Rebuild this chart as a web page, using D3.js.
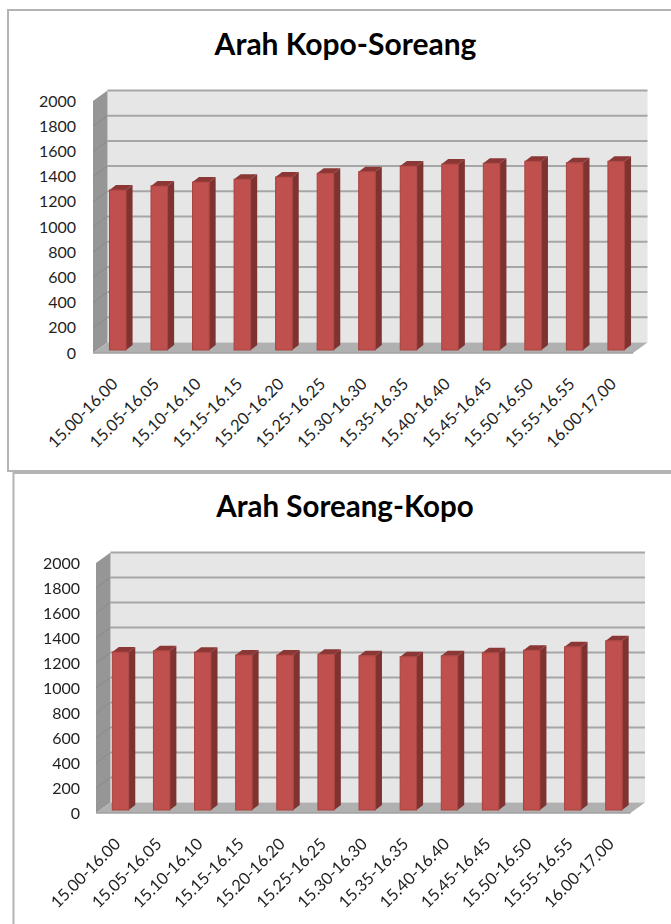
<!DOCTYPE html>
<html>
<head>
<meta charset="utf-8">
<script src="https://cdn.jsdelivr.net/npm/d3@7"></script>
<style>
  html, body { margin: 0; padding: 0; background: #fff; }
  svg { display: block; filter: blur(0.35px); }
  text { font-family: Lato, "Open Sans", sans-serif; fill: #1f1f1f; }
</style>
</head>
<body>
<svg id="charts" width="671" height="924"></svg>
<script>
const categories = ["15.00-16.00", "15.05-16.05", "15.10-16.10", "15.15-16.15", "15.20-16.20",
  "15.25-16.25", "15.30-16.30", "15.35-16.35", "15.40-16.40", "15.45-16.45",
  "15.50-16.50", "15.55-16.55", "16.00-17.00"];
const kopoSoreang = [1270, 1302, 1333, 1355, 1373, 1402, 1415, 1460, 1476, 1482, 1498, 1486, 1498];
const soreangKopo = [1264, 1274, 1262, 1240, 1240, 1246, 1234, 1226, 1234, 1258, 1278, 1306, 1354];
const yTicks = [0, 200, 400, 600, 800, 1000, 1200, 1400, 1600, 1800, 2000];

const svg = d3.select("#charts");
const depthX = 14.5, depthY = 10.5;   // shift from the front plane to the back wall
const barDepthX = 6.5, barDepthY = 5;

function drawChart(title, values, box) {
  const g = svg.append("g");

  // panel border, it runs off the right side of the picture
  g.append("rect")
    .attr("x", box.panelX).attr("y", box.panelY)
    .attr("width", 700).attr("height", box.panelH)
    .attr("fill", "#fff").attr("stroke", "#b4b4b4").attr("stroke-width", 2);

  g.append("text")
    .attr("x", box.titleX).attr("y", box.titleY)
    .attr("text-anchor", "middle")
    .style("font-size", box.titleSize).style("font-weight", 700).style("fill", "#000")
    .text(title);

  const x = d3.scaleBand()
    .domain(categories)
    .range([box.left, box.right])
    .paddingInner(0.6).paddingOuter(0.3);

  const y = d3.scaleLinear()
    .domain([0, 2000])
    .range([box.bottom, box.top]);

  const line = d3.line();
  const poly = pts => line(pts) + "Z";

  // back wall
  g.append("path")
    .attr("d", poly([[box.left + depthX, y(2000) - depthY], [box.right + depthX, y(2000) - depthY],
      [box.right + depthX, y(0) - depthY], [box.left + depthX, y(0) - depthY]]))
    .attr("fill", "#e6e6e6");

  // side wall
  g.append("path")
    .attr("d", poly([[box.left, y(2000)], [box.left + depthX, y(2000) - depthY],
      [box.left + depthX, y(0) - depthY], [box.left, y(0)]]))
    .attr("fill", "#969696");

  // floor
  g.append("path")
    .attr("d", poly([[box.left, y(0)], [box.left + depthX, y(0) - depthY],
      [box.right + depthX, y(0) - depthY], [box.right, y(0)]]))
    .attr("fill", "#b0b0b0");

  // gridlines on the back wall and side wall
  g.append("g").selectAll("line")
    .data(yTicks.filter(d => d > 0))
    .join("line")
    .attr("x1", box.left + depthX).attr("x2", box.right + depthX)
    .attr("y1", d => y(d) - depthY).attr("y2", d => y(d) - depthY)
    .attr("stroke", "#a6a6a6").attr("stroke-width", 2);

  g.append("g").selectAll("line")
    .data(yTicks.filter(d => d > 0 && d < 2000))
    .join("line")
    .attr("x1", box.left).attr("x2", box.left + depthX)
    .attr("y1", d => y(d)).attr("y2", d => y(d) - depthY)
    .attr("stroke", "#8a8a8a").attr("stroke-width", 1);

  g.append("line")
    .attr("x1", box.left).attr("x2", box.right)
    .attr("y1", y(0)).attr("y2", y(0))
    .attr("stroke", "#a0a0a0").attr("stroke-width", 1.5);

  // bars: side, top, then front face
  const barX = d => x(d.cat) + 4;
  const barTop = d => y(d.v) - 3;
  const bw = x.bandwidth();
  const bars = g.append("g").selectAll("g")
    .data(categories.map((cat, i) => ({ cat, v: values[i] })))
    .join("g");

  bars.append("path")
    .attr("d", d => poly([[barX(d) + bw, barTop(d)], [barX(d) + bw + barDepthX, barTop(d) - barDepthY],
      [barX(d) + bw + barDepthX, y(0) - 3 - barDepthY], [barX(d) + bw, y(0) - 3]]))
    .attr("fill", "#7f3331");

  bars.append("path")
    .attr("d", d => poly([[barX(d), barTop(d)], [barX(d) + barDepthX, barTop(d) - barDepthY],
      [barX(d) + bw + barDepthX, barTop(d) - barDepthY], [barX(d) + bw, barTop(d)]]))
    .attr("fill", "#8a3735");

  bars.append("rect")
    .attr("x", barX).attr("y", barTop)
    .attr("width", bw).attr("height", d => y(0) - 3 - barTop(d))
    .attr("fill", "#c0504d").attr("stroke", "#a8423f").attr("stroke-width", 1);

  // axes
  const yAxis = g.append("g")
    .attr("transform", `translate(${box.left},0)`)
    .call(d3.axisLeft(y).tickValues(yTicks).tickFormat(d3.format("d")).tickSize(0).tickPadding(box.left - box.labelRight));
  yAxis.select(".domain").remove();
  yAxis.selectAll("text").style("font-size", "16px").style("font-family", null);

  const xAxis = g.append("g")
    .attr("transform", `translate(0,${box.bottom})`)
    .call(d3.axisBottom(x).tickSize(0));
  xAxis.select(".domain").remove();
  xAxis.selectAll("text")
    .attr("text-anchor", "end")
    .attr("x", 0).attr("y", 0).attr("dy", "0.35em")
    .attr("transform", "translate(1,28) rotate(-45)")
    .style("font-size", "16.5px").style("font-family", null);
}

drawChart("Arah Kopo-Soreang", kopoSoreang,
  { panelX: 8, panelY: 10, panelH: 461, titleX: 345.5, titleY: 55, titleSize: "30px",
    left: 93, right: 633, top: 101, bottom: 353, labelRight: 76 });

drawChart("Arah Soreang-Kopo", soreangKopo,
  { panelX: 13.5, panelY: 473, panelH: 500, titleX: 345, titleY: 517, titleSize: "29.5px",
    left: 96, right: 630.5, top: 563, bottom: 813, labelRight: 80 });
</script>
</body>
</html>
